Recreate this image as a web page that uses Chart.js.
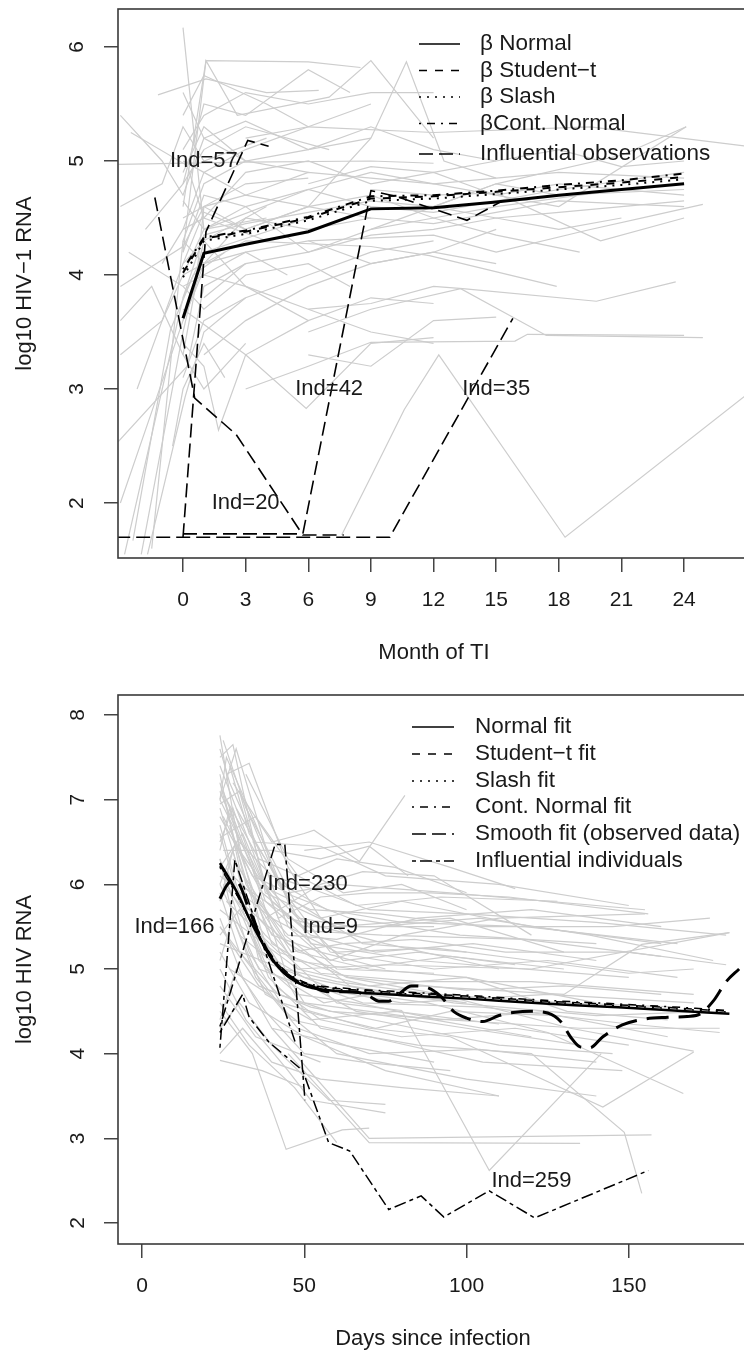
<!DOCTYPE html>
<html>
<head>
<meta charset="utf-8">
<script src="https://cdn.jsdelivr.net/npm/chart.js@4.4.1/dist/chart.umd.min.js"></script>
<style>
  html, body { margin: 0; padding: 0; background: #fff; }
  canvas { position: absolute; left: 0; }
  #topChart { top: 0; }
  #bottomChart { top: 670px; }
</style>
</head>
<body>
<canvas id="topChart" width="744" height="670"></canvas>
<canvas id="bottomChart" width="744" height="685"></canvas>
<script>
// ---- top panel: month of TI ----
const topMonths = [0, 1, 3, 6, 9, 12, 15, 18, 21, 24];
const topNormal = [3.62, 4.19, 4.27, 4.38, 4.58, 4.59, 4.64, 4.70, 4.75, 4.80];
const topStudent = [4.02, 4.32, 4.38, 4.50, 4.67, 4.69, 4.73, 4.77, 4.81, 4.86];
const topSlash = [3.98, 4.30, 4.36, 4.48, 4.65, 4.67, 4.71, 4.75, 4.79, 4.84];
const topContNormal = [4.05, 4.33, 4.39, 4.51, 4.69, 4.70, 4.74, 4.79, 4.83, 4.89];
const topXTicks = [0, 3, 6, 9, 12, 15, 18, 21, 24];
const topYTicks = [2, 3, 4, 5, 6];

// influential subjects, [month, log10 RNA]
const topInd20 = [[-1.35, 4.68], [0.56, 2.92], [2.55, 2.60], [5.74, 1.72], [7.7, 1.72]];
const topInd42 = [[0, 1.73], [5.74, 1.73], [9, 4.74], [10.2, 4.69], [13.6, 4.48], [15.3, 4.65]];
const topInd57 = [[0, 1.70], [1.1, 4.38], [3.1, 5.18], [4.1, 5.13]];
const topInd35 = [[-3.2, 1.70], [9.9, 1.70], [15.8, 3.62]];
const topNotes = [["Ind=57", 1, 5], ["Ind=42", 7, 3], ["Ind=20", 3, 2], ["Ind=35", 15, 3]];

// individual profiles (grey)
const topSubjects = [
  [[0, 6.17], [1, 4.4], [6, 4.75], [9, 4.9]],
  [[0, 4.2], [1.1, 5.88], [2.6, 5.4], [7, 5.56], [9, 5.88], [12, 5.2]],
  [[0, 4.6], [1.1, 5.88], [6, 5.87], [8.5, 5.82]],
  [[-3.1, 4.97], [3, 4.99], [9, 5.0], [12, 4.98]],
  [[-2.5, 5.25], [0.2, 4.96], [1, 4.5], [4, 4.3]],
  [[-1.2, 5.58], [1.1, 5.72], [4, 5.6], [6.5, 5.62]],
  [[-3.1, 2.54], [0.2, 3.2], [1, 3.9], [3, 4.1]],
  [[-2.8, 1.55], [0, 3.8], [1, 4.2], [6, 4.5]],
  [[-2, 1.55], [0, 3.5], [1, 4.3], [4, 4.6]],
  [[-1.5, 1.6], [0, 4.3], [1, 4.8], [3, 5.0], [6, 4.9]],
  [[0, 3.4], [1, 3.2], [1.7, 2.64], [3, 3.3], [6, 3.6]],
  [[0, 3.7], [3, 3.3], [5.9, 2.83], [9, 3.4], [12, 3.45]],
  [[7.6, 1.72], [9, 2.23], [10.6, 2.82], [12.25, 3.3], [18.3, 1.7], [27, 2.95]],
  [[3, 3.0], [6, 3.2], [9, 3.41], [15.9, 3.42], [16.5, 3.48], [24, 3.47]],
  [[0, 4.0], [3, 4.3], [9, 4.25], [11.8, 4.17], [17.9, 3.9]],
  [[6, 3.7], [9, 3.75], [12, 3.9], [13.4, 3.88], [19.8, 3.77], [23.6, 3.94]],
  [[6, 3.5], [9, 3.7], [13.3, 3.88], [17.4, 3.47], [24.9, 3.45]],
  [[6, 4.3], [12, 4.35], [15, 4.2], [19.3, 4.39], [22.7, 4.53], [24.9, 4.62]],
  [[3, 5.2], [6, 5.3], [12, 5.25], [19.5, 5.3], [27, 5.13]],
  [[12, 4.6], [15, 4.8], [21, 5.05], [24.1, 5.3]],
  [[9, 4.9], [18, 4.6], [24.1, 5.3]],
  [[6, 4.6], [9, 5.2], [10.7, 5.87], [12.5, 5.0], [15, 4.85]],
  [[-1, 4.1], [0, 4.4], [1, 4.9], [3, 5.1], [6, 5.3], [9, 5.5]],
  [[-3, 3.9], [0, 4.25], [1, 4.6], [3, 4.8], [6, 4.85]],
  [[-3, 3.3], [-1, 3.6], [0, 4.0], [1, 4.4], [4, 4.5]],
  [[0, 5.1], [1, 5.4], [3, 5.6], [6, 5.5], [9, 5.6], [12, 5.6]],
  [[-1.8, 4.4], [0, 4.8], [1, 5.1], [3, 5.3], [7, 5.1]],
  [[0, 3.1], [1, 3.6], [3, 3.8], [6, 4.0], [9, 4.2], [12, 4.3]],
  [[0, 3.9], [1, 3.7], [3, 4.0], [6, 4.1], [8, 3.9]],
  [[0, 4.5], [1, 4.6], [3, 4.4], [6, 4.6], [9, 4.7], [12, 4.5], [15, 4.6], [21, 4.75]],
  [[0, 5.0], [1, 4.9], [3, 4.7], [6, 4.9], [9, 4.85], [12, 4.8], [18, 4.9], [24, 4.85]],
  [[1, 3.3], [3, 3.6], [6, 3.9], [9, 4.1], [12, 4.2], [15, 4.4]],
  [[-2.4, 1.67], [-0.6, 3.52], [0.5, 4.0], [2, 4.2]],
  [[-1.7, 1.55], [0.1, 2.93], [1, 3.5], [3, 3.8]],
  [[0, 4.8], [1, 5.5], [3, 5.4], [6, 5.8], [8, 5.6]],
  [[0, 4.3], [1, 4.1], [3, 4.5], [6, 4.4], [9, 4.5], [12, 4.45], [15, 4.55], [18, 4.65], [24, 4.6]],
  [[0, 4.2], [1, 4.7], [3, 4.6], [6, 4.75], [9, 4.6], [12, 4.55], [18, 4.75], [24, 4.9]],
  [[1, 4.0], [3, 3.9], [6, 3.6], [9, 3.8], [12, 3.75]],
  [[-3, 4.6], [-1, 4.8], [0, 5.3], [1, 5.0], [4, 5.2]],
  [[0, 5.4], [1, 5.75], [4, 5.5], [6, 5.3]],
  [[9, 4.75], [12, 4.7], [15, 4.72], [20, 4.3], [24, 4.5]],
  [[6, 3.3], [9, 3.2], [12, 3.6], [15, 3.63]],
  [[-3, 2.0], [-1.5, 2.8], [0, 3.6], [1, 4.05]],
  [[9, 4.4], [12, 4.5], [15, 4.35], [19, 4.2]],
  [[-3, 5.4], [-1, 5.0], [0, 4.7], [1, 5.2], [3, 5.0]],
  [[-2.2, 3.0], [0, 4.1], [1, 4.55], [3, 4.4], [6, 4.6], [9, 4.5]],
  [[0, 4.9], [1, 5.3], [3, 5.0], [6, 5.1], [9, 5.3], [12, 5.1], [15, 5.0]],
  [[0, 3.6], [1, 4.1], [3, 4.2], [6, 4.3], [9, 4.1], [12, 4.2], [15, 4.1]],
  [[0, 4.4], [1, 4.5], [3, 4.9], [6, 5.0], [9, 4.8], [12, 4.9], [15, 4.7], [18, 4.8], [24, 4.7]],
  [[-2.6, 4.2], [0, 3.9], [1, 4.0], [3, 4.2], [5, 4.0]],
  [[0, 3.3], [0.6, 3.9], [1, 4.6], [3, 4.7], [6, 4.6]],
  [[0, 5.6], [1, 5.2], [3, 5.35], [6, 5.1], [9, 5.2]],
  [[0, 4.1], [1, 4.3], [3, 3.9], [6, 3.7], [9, 3.5], [12, 3.4]],
  [[1, 3.8], [3, 4.1], [6, 4.2], [9, 4.35], [12, 4.4], [15, 4.5], [18, 4.4], [21, 4.5]],
  [[-3, 3.6], [-1.5, 3.9], [0, 3.3], [1, 3.0], [3, 3.4]],
  [[0, 4.65], [1, 4.4], [3, 4.6], [6, 4.2], [9, 4.4], [12, 4.6], [15, 4.5], [18, 4.55], [24, 4.65]],
  [[0, 3.8], [1, 4.35], [3, 4.45], [6, 4.55], [9, 4.65], [12, 4.6], [15, 4.8], [18, 4.7], [24, 4.75]],
  [[6, 4.8], [9, 4.95], [12, 4.9], [15, 5.0], [18, 5.1], [21, 4.95], [24, 5.0]],
  [[-0.5, 2.5], [0, 3.0], [1, 3.4], [2, 3.1]]
];

// ---- bottom panel: days since infection ----
const botDays = [24, 27, 30, 33, 36, 39, 42, 45, 48, 51, 55, 60, 80, 100, 120, 140, 160, 181];
const botNormal = [6.25, 6.06, 5.85, 5.60, 5.38, 5.18, 5.02, 4.91, 4.84, 4.79, 4.76, 4.74, 4.69, 4.65, 4.60, 4.56, 4.52, 4.47];
const botStudent = [6.22, 6.04, 5.83, 5.60, 5.40, 5.20, 5.05, 4.94, 4.87, 4.82, 4.79, 4.77, 4.72, 4.68, 4.63, 4.59, 4.55, 4.50];
const botSlash = [6.21, 6.03, 5.82, 5.59, 5.39, 5.19, 5.04, 4.93, 4.86, 4.81, 4.78, 4.76, 4.71, 4.67, 4.62, 4.58, 4.54, 4.49];
const botContNormal = [6.20, 6.02, 5.82, 5.60, 5.40, 5.21, 5.06, 4.95, 4.88, 4.83, 4.80, 4.78, 4.73, 4.69, 4.64, 4.60, 4.56, 4.51];
const smoothDays = [24, 26, 28, 30, 33, 36, 40, 44, 48, 52, 56, 60, 65, 70, 73, 76, 79, 83, 88, 92, 96, 100, 105, 110, 115, 120, 125, 129, 132, 135, 138, 142, 148, 155, 162, 168, 172, 176, 180, 184];
const smoothFit = [5.83, 5.98, 6.06, 6.0, 5.7, 5.42, 5.12, 4.95, 4.85, 4.80, 4.74, 4.73, 4.73, 4.68, 4.62, 4.62, 4.70, 4.80, 4.78, 4.68, 4.50, 4.42, 4.38, 4.45, 4.49, 4.50, 4.48, 4.38, 4.20, 4.08, 4.07, 4.20, 4.34, 4.41, 4.43, 4.44, 4.47, 4.62, 4.85, 5.0];
const botXTicks = [0, 50, 100, 150];
const botYTicks = [2, 3, 4, 5, 6, 7, 8];

const botInd166 = [[24, 4.07], [28.6, 6.29], [47.5, 4.1]];
const botInd230 = [[24, 4.32], [41, 6.47], [44, 6.47], [50.2, 3.45]];
const botInd259 = [[24, 4.25], [31, 4.7], [33, 4.43], [39, 4.14], [49.5, 3.8], [57.5, 2.95], [64, 2.85], [76, 2.16], [86, 2.32], [93, 2.07], [107, 2.38], [121, 2.06], [156, 2.62]];
const botNotes = [["Ind=230", 51, 6], ["Ind=166", 10, 5.5], ["Ind=9", 58, 5.5], ["Ind=259", 120, 2.5]];

const botSubjects = [
  [[24, 7.76], [30, 6.4], [45, 5.6], [75, 5.3], [110, 5.0]],
  [[24, 7.5], [28, 7.65], [38, 5.9], [60, 5.5], [95, 5.6], [130, 5.2]],
  [[26, 7.3], [33, 7.43], [45, 6.2], [55, 5.6], [80, 5.8], [120, 5.5], [160, 5.3]],
  [[24, 7.2], [32, 6.0], [48, 5.0], [70, 4.8], [100, 4.9], [140, 4.6]],
  [[24, 7.0], [29, 7.6], [40, 6.2], [52, 5.3], [85, 5.1], [150, 4.9]],
  [[24, 6.9], [35, 5.5], [50, 4.6], [90, 4.4], [120, 4.2]],
  [[25, 6.8], [34, 6.1], [45, 5.9], [60, 6.0], [95, 5.9], [155, 5.7]],
  [[24, 6.6], [30, 5.8], [42, 5.0], [66, 4.5], [100, 4.3], [135, 4.1]],
  [[24, 6.5], [28, 6.9], [38, 5.8], [58, 5.1], [80, 5.4], [110, 5.6], [155, 5.65]],
  [[24, 6.3], [33, 5.2], [46, 4.4], [70, 4.2], [105, 3.9], [148, 3.8]],
  [[24, 6.2], [31, 6.6], [42, 5.6], [55, 5.85], [70, 5.9], [89, 5.9], [113, 5.85], [156, 5.65]],
  [[24, 6.0], [36, 5.0], [50, 4.8], [80, 4.6], [125, 4.7], [170, 4.6]],
  [[24, 5.9], [30, 5.2], [44, 4.5], [60, 4.0], [100, 3.7], [140, 3.5]],
  [[24, 5.7], [34, 5.4], [48, 5.0], [75, 5.05], [120, 5.0], [181, 5.43]],
  [[24, 5.6], [31, 4.9], [40, 4.3], [62, 4.1], [90, 3.9]],
  [[24, 5.4], [30, 5.7], [38, 5.0], [56, 4.6], [85, 4.8], [130, 4.7], [154, 5.29], [181, 5.43]],
  [[24, 5.2], [33, 4.6], [50, 4.2], [75, 3.8], [110, 3.5]],
  [[24, 5.0], [32, 4.4], [45, 3.8], [52, 3.45], [75, 3.3]],
  [[24, 4.8], [35, 4.2], [55, 3.9]],
  [[24, 4.5], [34, 4.0], [44.4, 2.87], [61.7, 3.1], [70, 3.12]],
  [[24, 4.3], [30, 4.6], [40, 4.1], [57.6, 3.45], [75, 3.4]],
  [[24, 3.92], [37, 3.8], [50, 3.6]],
  [[26, 7.0], [36, 6.3], [48, 6.1], [60, 6.3], [78, 6.2], [100, 5.9]],
  [[28, 7.2], [40, 6.5], [50, 6.6], [53, 6.64], [67, 6.27], [81, 7.05]],
  [[30, 7.1], [42, 6.0], [58, 5.2], [90, 5.0], [125, 5.1], [165, 4.9]],
  [[25, 6.4], [40, 6.4], [55, 6.3], [70, 6.45], [82, 6.1]],
  [[27, 6.7], [38, 5.3], [50, 4.5], [72, 4.3], [95, 4.5], [128, 4.45], [162, 4.2]],
  [[24, 7.4], [30, 6.8], [44, 5.4], [64, 4.8], [96, 4.6], [140, 4.45], [175, 4.5]],
  [[24, 6.1], [40, 5.6], [60, 5.2], [90, 5.25], [120, 5.1], [150, 4.95], [170, 5.0]],
  [[29, 6.9], [44, 5.9], [64, 5.6], [98, 5.4], [140, 5.3]],
  [[24, 5.5], [36, 4.8], [52, 4.55], [84, 4.3], [110, 4.1], [145, 4.0]],
  [[25, 6.0], [38, 5.4], [60, 4.6], [80, 4.51], [107, 2.62], [141.5, 4.0]],
  [[30, 5.8], [48, 5.2], [70, 5.0], [100, 4.9], [131, 4.5], [162, 4.4]],
  [[24, 7.1], [36, 6.0], [52, 5.7], [73, 5.65], [105, 5.5], [145, 5.5], [175, 5.6]],
  [[26, 6.2], [39, 4.9], [55, 4.3], [85, 4.1], [120, 4.0], [148.6, 3.07], [154, 2.35]],
  [[25, 7.7], [32, 6.9], [47, 5.8], [68, 5.3], [100, 5.2]],
  [[24, 6.8], [37, 5.9], [51, 5.45], [74, 5.4], [118, 5.35], [160, 5.15]],
  [[28, 6.3], [45, 5.3], [63, 4.9], [92, 4.7], [132, 4.3], [170, 4.03]],
  [[24, 5.3], [40, 5.05], [60, 4.75], [88, 4.6], [125, 4.25], [166.8, 3.53]],
  [[27, 5.0], [43, 4.6], [70, 4.3], [95, 4.2], [142, 3.37], [170, 4.02]],
  [[50, 6.4], [70, 6.5], [95, 6.2], [115, 5.95]],
  [[34, 6.5], [55, 6.45], [75, 6.1], [110, 6.0], [150, 5.75]],
  [[40, 4.3], [70, 3.0], [157, 3.04]],
  [[45, 4.0], [70, 2.95], [135, 2.94]],
  [[30, 6.0], [50, 5.5], [72, 5.5], [104, 5.6], [138, 5.4], [176, 5.1]],
  [[32, 7.3], [45, 6.3], [62, 5.9], [80, 6.0], [100, 5.7]],
  [[24, 6.55], [35, 6.8], [48, 6.1], [66, 5.75], [92, 5.85], [128, 5.8]],
  [[30, 5.4], [46, 4.9], [68, 4.6], [105, 4.55], [150, 4.35], [178, 4.25]],
  [[26, 5.8], [42, 5.2], [64, 4.9], [100, 4.75], [130, 4.8], [160, 4.7]],
  [[24, 4.6], [33, 4.1], [47, 3.6], [60, 2.95]],
  [[38, 5.6], [55, 6.0], [68, 6.15], [90, 6.1], [120, 5.4]],
  [[24, 7.6], [27, 7.2], [35, 6.5], [45, 5.5], [60, 5.0], [90, 4.95]],
  [[24, 7.3], [30, 6.2], [40, 5.4], [55, 5.2], [75, 5.0]],
  [[24, 7.0], [26, 7.5], [34, 6.8], [46, 5.7], [62, 5.1], [85, 5.2], [115, 5.05]],
  [[24, 6.7], [29, 6.0], [37, 5.2], [50, 4.9], [70, 4.75], [100, 4.6]],
  [[24, 6.4], [27, 6.9], [36, 5.6], [47, 5.1], [65, 5.0], [95, 5.15], [130, 5.0]],
  [[24, 5.8], [28, 6.4], [36, 5.1], [48, 4.7], [66, 4.6], [92, 4.4], [125, 4.5]],
  [[24, 5.1], [28, 5.6], [38, 4.7], [52, 4.4], [78, 4.5], [110, 4.35]],
  [[25, 7.1], [31, 6.5], [40, 5.8], [52, 5.4], [72, 5.2], [102, 5.3], [140, 5.1]],
  [[24, 6.95], [30, 7.1], [38, 6.0], [48, 5.6], [65, 5.5], [90, 5.5]],
  [[26, 6.0], [32, 5.6], [41, 4.8], [55, 4.4], [80, 4.2], [115, 4.3], [150, 4.1]],
  [[24, 4.4], [29, 5.0], [38, 4.5], [50, 4.0], [68, 3.9], [95, 3.8]],
  [[27, 7.4], [33, 6.6], [43, 6.0], [57, 5.7], [80, 5.55], [118, 5.5], [165, 5.3]],
  [[24, 6.0], [29, 6.5], [40, 5.3], [55, 4.95], [85, 4.85], [120, 4.85], [170, 4.7]],
  [[24, 5.5], [30, 5.2], [42, 4.7], [58, 4.5], [95, 4.4], [135, 4.3], [178, 4.3]],
  [[30, 6.5], [40, 6.1], [52, 5.95], [70, 5.7], [100, 5.65], [140, 5.55], [180, 5.4]],
  [[24, 4.0], [31, 4.3], [40, 3.9], [55, 3.7], [80, 3.6], [110, 3.5]],
  [[28, 6.1], [36, 5.8], [46, 5.2], [62, 5.3], [84, 5.35], [112, 5.2], [150, 5.2], [180, 5.05]],
  [[24, 7.0], [33, 6.3], [44, 5.0], [60, 4.85], [90, 4.7], [130, 4.6], [165, 4.55]],
  [[33, 5.9], [45, 5.4], [60, 5.35], [85, 5.6], [120, 5.7], [160, 5.5]],
  [[24, 6.3], [28, 5.6], [35, 4.9], [48, 4.3], [70, 4.0], [104, 4.05], [140, 3.9]]
];

const topLegendLabels = ["\u03b2 Normal", "\u03b2 Student\u2212t", "\u03b2 Slash", "\u03b2Cont. Normal", "Influential observations"];
const botLegendLabels = ["Normal fit", "Student\u2212t fit", "Slash fit", "Cont. Normal fit", "Smooth fit (observed data)", "Influential individuals"];

// ---- drawing ----
const FONT = '"Liberation Sans", Arial, Helvetica, sans-serif';
const GREY = "#cdcdcd";
const DASH = { solid: [], dashed: [8, 8], dotted: [2, 6], dotdash: [2, 6, 8, 6], longdash: [14, 6], twodash: [4, 4, 12, 4] };

const zip = (xs, ys) => xs.map((x, i) => [x, ys[i]]);

function lineSet(points, style) {
  return Object.assign({
    data: points.map(([x, y]) => ({ x, y })),
    borderColor: "#000",
    borderWidth: 1.5,
    pointRadius: 0,
    tension: 0,
    fill: false
  }, style);
}

function greySets(list) {
  return list.map((p) => lineSet(p, { borderColor: GREY, borderWidth: 1.2, order: 5 }));
}

// box, rotated y labels, titles, notes and legend drawn R-style
function rDecor(spec) {
  return {
    id: "rDecor",
    afterDraw(chart) {
      const { ctx, chartArea: a, scales: { x, y } } = chart;
      ctx.save();
      ctx.setLineDash([]);
      ctx.strokeStyle = "#3a3a3a";
      ctx.lineWidth = 1.6;
      ctx.strokeRect(a.left, a.top, a.right - a.left + 20, a.bottom - a.top);

      ctx.fillStyle = "#1a1a1a";
      ctx.textAlign = "center";
      ctx.textBaseline = "middle";
      ctx.font = `21px ${FONT}`;
      spec.yTicks.forEach((v) => {
        ctx.save();
        ctx.translate(spec.yTickX, y.getPixelForValue(v));
        ctx.rotate(-Math.PI / 2);
        ctx.fillText(String(v), 0, 0);
        ctx.restore();
      });
      ctx.font = `22px ${FONT}`;
      ctx.save();
      ctx.translate(spec.yTitleX, (a.top + a.bottom) / 2);
      ctx.rotate(-Math.PI / 2);
      ctx.fillText(spec.yTitle, 0, 0);
      ctx.restore();
      ctx.fillText(spec.xTitle, spec.xTitleX, spec.xTitleY);

      spec.notes.forEach(([t, nx, ny]) => {
        ctx.fillText(t, x.getPixelForValue(nx), y.getPixelForValue(ny));
      });

      ctx.font = `22.5px ${FONT}`;
      ctx.textAlign = "left";
      spec.legend.forEach((item, i) => {
        const ly = spec.legendRows[i];
        ctx.beginPath();
        ctx.setLineDash(item.dash);
        ctx.lineWidth = 1.5;
        ctx.strokeStyle = "#000";
        ctx.moveTo(spec.legendX[0], ly);
        ctx.lineTo(spec.legendX[1], ly);
        ctx.stroke();
        ctx.fillText(item.text, spec.legendX[2], ly);
      });
      ctx.restore();
    }
  };
}

function axisOptions(xr, yr, xTicks, yTicks, padTop, xHeight) {
  const grid = { drawOnChartArea: false, drawTicks: true, tickLength: 14, color: "#444", lineWidth: 1.5 };
  return {
    responsive: false,
    animation: false,
    layout: { padding: { top: padTop, left: 0, right: 0, bottom: 0 } },
    plugins: { legend: { display: false }, tooltip: { enabled: false } },
    scales: {
      x: {
        type: "linear", min: xr[0], max: xr[1],
        afterBuildTicks: (s) => { s.ticks = xTicks.map((v) => ({ value: v })); },
        afterFit: (s) => { s.height = xHeight; },
        grid, border: { display: false },
        ticks: { font: { size: 21, family: FONT }, color: "#1a1a1a", padding: 16, maxRotation: 0, autoSkip: false }
      },
      y: {
        type: "linear", min: yr[0], max: yr[1],
        afterBuildTicks: (s) => { s.ticks = yTicks.map((v) => ({ value: v })); },
        afterFit: (s) => { s.width = 118; },
        grid, border: { display: false },
        ticks: { display: false }
      }
    }
  };
}

new Chart(document.getElementById("topChart"), {
  type: "line",
  data: {
    datasets: [
      lineSet(zip(topMonths, topNormal), { borderWidth: 3, order: 0 }),
      lineSet(zip(topMonths, topStudent), { borderWidth: 2, borderDash: DASH.dashed, order: 1 }),
      lineSet(zip(topMonths, topSlash), { borderWidth: 2, borderDash: DASH.dotted, order: 1 }),
      lineSet(zip(topMonths, topContNormal), { borderWidth: 2, borderDash: DASH.dotdash, order: 1 }),
      lineSet(topInd20, { borderWidth: 1.6, borderDash: DASH.longdash, order: 2 }),
      lineSet(topInd42, { borderWidth: 1.6, borderDash: DASH.longdash, order: 2 }),
      lineSet(topInd57, { borderWidth: 1.6, borderDash: DASH.longdash, order: 2 }),
      lineSet(topInd35, { borderWidth: 1.6, borderDash: DASH.longdash, order: 2 }),
      ...greySets(topSubjects)
    ]
  },
  options: axisOptions([-3.114, 26.87], [1.518, 6.333], topXTicks, topYTicks, 9, 112),
  plugins: [rDecor({
    yTicks: topYTicks, yTickX: 77, yTitle: "log10 HIV\u22121 RNA", yTitleX: 25,
    xTitle: "Month of TI", xTitleX: 434, xTitleY: 653,
    notes: topNotes,
    legendX: [419, 460, 480],
    legendRows: [44, 70.5, 97, 123.5, 154],
    legend: topLegendLabels.map((text, i) => ({ text, dash: [DASH.solid, DASH.dashed, DASH.dotted, DASH.dotdash, DASH.longdash][i] }))
  })]
});

new Chart(document.getElementById("bottomChart"), {
  type: "line",
  data: {
    datasets: [
      lineSet(zip(botDays, botNormal), { borderWidth: 2.5, cubicInterpolationMode: "monotone", order: 0 }),
      lineSet(zip(botDays, botStudent), { borderWidth: 1.5, borderDash: DASH.dashed, cubicInterpolationMode: "monotone", order: 1 }),
      lineSet(zip(botDays, botSlash), { borderWidth: 1.5, borderDash: DASH.dotted, cubicInterpolationMode: "monotone", order: 1 }),
      lineSet(zip(botDays, botContNormal), { borderWidth: 1.5, borderDash: DASH.dotdash, cubicInterpolationMode: "monotone", order: 1 }),
      lineSet(zip(smoothDays, smoothFit), { borderWidth: 3, borderDash: [22, 10], cubicInterpolationMode: "monotone", order: 1 }),
      lineSet(botInd166, { borderWidth: 1.5, borderDash: DASH.twodash, order: 2 }),
      lineSet(botInd230, { borderWidth: 1.5, borderDash: DASH.twodash, order: 2 }),
      lineSet(botInd259, { borderWidth: 1.5, borderDash: DASH.twodash, order: 2 }),
      ...greySets(botSubjects)
    ]
  },
  options: axisOptions([-7.41, 185.5], [1.752, 8.236], botXTicks, botYTicks, 25, 111),
  plugins: [rDecor({
    yTicks: botYTicks, yTickX: 78, yTitle: "log10 HIV RNA", yTitleX: 25,
    xTitle: "Days since infection", xTitleX: 433, xTitleY: 669,
    notes: botNotes,
    legendX: [412, 454, 475],
    legendRows: [57, 84, 111, 137, 164, 191],
    legend: botLegendLabels.map((text, i) => ({ text, dash: [DASH.solid, DASH.dashed, DASH.dotted, DASH.dotdash, DASH.longdash, DASH.twodash][i] }))
  })]
});
</script>
</body>
</html>
